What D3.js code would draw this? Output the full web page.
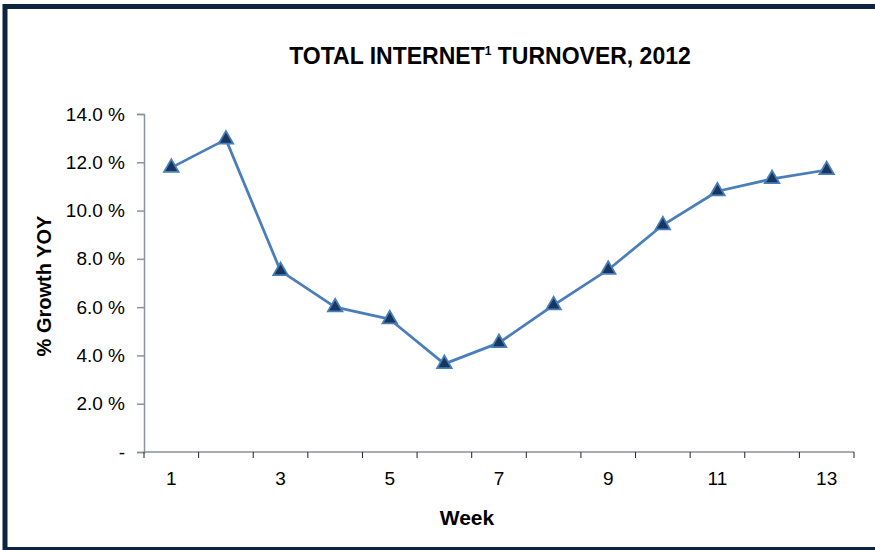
<!DOCTYPE html>
<html>
<head>
<meta charset="utf-8">
<script src="https://cdn.jsdelivr.net/npm/d3@7"></script>
<style>
  html, body { margin: 0; padding: 0; background: #fff; }
  svg { display: block; font-family: Arial, "Liberation Sans", sans-serif; }
</style>
</head>
<body>
<svg id="chart" width="875" height="550"></svg>
<script>
// Weekly year-over-year growth of total internet turnover, 2012
const weeks = [1, 2, 3, 4, 5, 6, 7, 8, 9, 10, 11, 12, 13];
const growth = [11.78, 12.95, 7.5, 6.0, 5.5, 3.65, 4.52, 6.08, 7.55, 9.4, 10.8, 11.31, 11.68];
const yTicks = [0, 2, 4, 6, 8, 10, 12, 14];
const xLabelWeeks = [1, 3, 5, 7, 9, 11, 13];

const svg = d3.select("#chart");
const axisColor = "#8a929d";
const lineColor = "#4a7ebb";
const markerFill = "#17375e";

// Frame
svg.append("rect")
  .attr("x", 5).attr("y", 6.5)
  .attr("width", 900).attr("height", 543)
  .attr("fill", "none")
  .attr("stroke", "#0c2441")
  .attr("stroke-width", 5);

const plot = { left: 144, right: 854, top: 114, bottom: 452 };

const x = d3.scaleBand()
  .domain(weeks)
  .range([plot.left, plot.right])
  .paddingInner(0).paddingOuter(0);

const y = d3.scaleLinear()
  .domain([0, 14])
  .range([plot.bottom, plot.top]);

// Y axis
const yAxis = d3.axisLeft(y)
  .tickValues(yTicks)
  .tickSize(7)
  .tickPadding(12)
  .tickFormat(d => d === 0 ? "-" : d3.format(".1f")(d) + " %");

const gy = svg.append("g")
  .attr("transform", `translate(${plot.left},0)`)
  .call(yAxis);
gy.select(".domain").attr("stroke", axisColor).attr("stroke-width", 1.5);
gy.selectAll(".tick line").attr("stroke", axisColor).attr("stroke-width", 1.5);
gy.selectAll(".tick text")
  .attr("fill", "#000")
  .style("font-size", "19px");

// X axis: tick marks on category boundaries, labels on odd weeks
const boundaries = weeks.map(w => x(w)).concat([plot.right]);
const gx = svg.append("g");
gx.append("line")
  .attr("x1", plot.left).attr("x2", plot.right)
  .attr("y1", plot.bottom).attr("y2", plot.bottom)
  .attr("stroke", axisColor).attr("stroke-width", 1.5);
gx.selectAll("line.tick")
  .data(boundaries)
  .join("line")
  .attr("class", "tick")
  .attr("x1", d => d).attr("x2", d => d)
  .attr("y1", plot.bottom).attr("y2", plot.bottom + 6)
  .attr("stroke", "#222").attr("stroke-width", 1);
gx.selectAll("text")
  .data(xLabelWeeks)
  .join("text")
  .attr("x", d => x(d) + x.bandwidth() / 2)
  .attr("y", 485)
  .attr("text-anchor", "middle")
  .style("font-size", "19px")
  .text(d => d);

// Series line
const line = d3.line()
  .x((d, i) => x(weeks[i]) + x.bandwidth() / 2)
  .y(d => y(d));

svg.append("path")
  .datum(growth)
  .attr("d", line)
  .attr("fill", "none")
  .attr("stroke", lineColor)
  .attr("stroke-width", 2.75)
  .attr("stroke-linejoin", "round");

// Triangle markers
const tri = d3.symbol().type(d3.symbolTriangle).size(92);
svg.selectAll("path.marker")
  .data(growth)
  .join("path")
  .attr("class", "marker")
  .attr("transform", (d, i) => `translate(${x(weeks[i]) + x.bandwidth() / 2},${y(d)})`)
  .attr("d", tri)
  .attr("fill", markerFill)
  .attr("stroke", lineColor)
  .attr("stroke-width", 1.75);

// Title
const title = svg.append("text")
  .attr("x", 490).attr("y", 64)
  .attr("text-anchor", "middle")
  .style("font-size", "23px")
  .style("font-weight", "bold");
title.append("tspan").text("TOTAL INTERNET");
title.append("tspan").attr("dy", -9).style("font-size", "12px").text("1");
title.append("tspan").attr("dy", 9).text(" TURNOVER, 2012");

// Axis titles
svg.append("text")
  .attr("x", 467).attr("y", 525)
  .attr("text-anchor", "middle")
  .style("font-size", "21px")
  .style("font-weight", "bold")
  .text("Week");

svg.append("text")
  .attr("transform", "translate(51,286) rotate(-90)")
  .attr("text-anchor", "middle")
  .style("font-size", "20px")
  .style("font-weight", "bold")
  .text("% Growth YOY");
</script>
</body>
</html>
